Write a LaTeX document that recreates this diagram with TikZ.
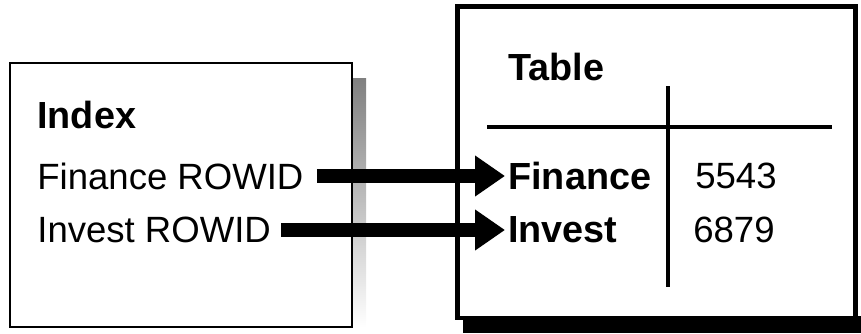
\documentclass[tikz,border=0pt]{standalone}
\usepackage{fontspec}
\setmainfont{Liberation Sans}
\usetikzlibrary{arrows.meta, positioning}
\definecolor{ink}{HTML}{000000}
\definecolor{shade}{HTML}{DDDDDD}

\begin{document}
\begin{tikzpicture}[
    font=\fontsize{20.8}{25}\selectfont,
    label/.style={
      anchor=west,
      inner sep=0pt,
    },
    head/.style={
      label,
      font=\bfseries\fontsize{21.5}{25}\selectfont,
    },
    rule/.style={
      draw=ink,
      line width=2.6pt,
    },
    pointer/.style={
      draw=ink,
      line width=7.4pt,
      -{Triangle[length=0.6cm, width=0.78cm]},
    },
  ]

  \useasboundingbox (0,0) rectangle (17.22,6.66);

  % Index box with soft shadow
  \fill[shade] (7.04,0.12) rectangle (7.32,5.1);
  \draw[ink, line width=1.2pt, fill=white] (0.2,0.12) rectangle (7.04,5.4);

  % Table box with hard shadow
  \fill[ink] (9.26,0) rectangle (17.22,0.34);
  \draw[ink, line width=2.8pt, fill=white] (9.15,0.3) rectangle (17.11,6.53);

  % Table grid
  \draw[rule] (9.74,4.12) -- (16.64,4.12);
  \draw[rule] (13.36,4.94) -- (13.36,0.92);

  % Index entries
  \node[head] (idx) at (0.74,4.36) {Index};
  \node[label] (finid) at (0.74,3.14) {Finance ROWID};
  \node[label] (invid) at (0.74,2.06) {Invest ROWID};

  % Table rows
  \node[head] (tbl) at (10.16,5.32) {Table};
  \node[head] (fin) at (10.16,3.14) {Finance};
  \node[head] (inv) at (10.16,2.06) {Invest};
  \node[label] (finval) at (13.9,3.14) {5543};
  \node[label] (invval) at (13.86,2.06) {6879};

  % Pointers
  \draw[pointer, shorten <=0.26cm, shorten >=0.06cm] (finid.east) -- (fin.west);
  \draw[pointer, shorten <=0.2cm, shorten >=0.06cm] (invid.east) -- (inv.west);

\end{tikzpicture}
\end{document}
